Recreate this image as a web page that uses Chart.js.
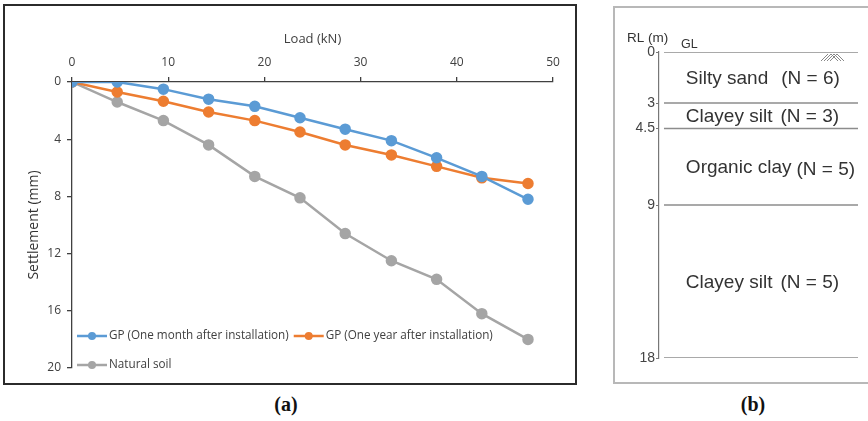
<!DOCTYPE html>
<html>
<head>
<meta charset="utf-8">
<script src="https://cdn.jsdelivr.net/npm/chart.js@4.4.1/dist/chart.umd.min.js"></script>
<style>
  body { margin: 0; background: #fff; width: 868px; height: 421px; overflow: hidden; position: relative; }
  .frame { position: absolute; box-sizing: border-box; }
  #frameA { left: 3px; top: 4px; width: 574px; height: 381px; border: 2px solid #2b2b2b; }
  #frameB { left: 613px; top: 6px; width: 262px; height: 378px; border: 2px solid #b8b8b8; }
  #wrapA { position: absolute; left: 5px; top: 8px; width: 570px; height: 374px; }
  #wrapB { position: absolute; left: 614px; top: 8px; width: 254px; height: 374px; }
  .cap { position: absolute; font: bold 20px "Liberation Serif", "Times New Roman", serif; color: #111; transform: translate(-50%, -50%); }
</style>
</head>
<body>
<div class="frame" id="frameA"></div>
<div class="frame" id="frameB"></div>
<div id="wrapA"><canvas id="settle-chart"></canvas></div>
<div id="wrapB"><canvas id="soil-chart"></canvas></div>
<div class="cap" style="left:286px; top:404px;">(a)</div>
<div class="cap" style="left:753px; top:404px;">(b)</div>
<script>
// (a) load - settlement
const loads = [0, 4.7, 9.5, 14.2, 19.0, 23.7, 28.4, 33.2, 37.9, 42.6, 47.4];
const oneMonth = [0, 0, 0.5, 1.2, 1.7, 2.5, 3.3, 4.1, 5.3, 6.6, 8.2];
const oneYear = [0, 0.7, 1.35, 2.1, 2.7, 3.5, 4.4, 5.1, 5.9, 6.7, 7.1];
const naturalSoil = [0, 1.4, 2.7, 4.4, 6.6, 8.1, 10.6, 12.5, 13.8, 16.2, 18.0];
const seriesNames = ['GP (One month after installation)', 'GP (One year after installation)', 'Natural soil'];

// (b) soil profile
const depthTicks = [0, 3, 4.5, 9, 18];
const layerNames = ['Silty sand', 'Clayey silt', 'Organic clay', 'Clayey silt'];
const layerN = [6, 3, 5, 5];

const txt = '#404040';
const pts = (ys) => loads.map((x, i) => ({ x: x, y: ys[i] }));

function mkSeries(label, ys, color) {
    return {
        label: label,
        data: pts(ys),
        borderColor: color,
        backgroundColor: color,
        borderWidth: 2.5,
        pointRadius: 4.5,
        pointHoverRadius: 4.5,
        tension: 0
    };
}

// legend drawn inside the plot, bottom left
const insideLegend = {
    id: 'insideLegend',
    afterDraw(chart) {
        const ctx = chart.ctx;
        const area = chart.chartArea;
        const x0 = area.left + 5;
        const row2 = area.bottom - 3;
        const row1 = row2 - 29;
        const spots = [[x0, row1], [null, row1], [x0, row2]];
        ctx.save();
        ctx.font = '11.7px "Open Sans", sans-serif';
        ctx.textBaseline = 'middle';
        let nextX = x0;
        chart.data.datasets.forEach((ds, i) => {
            const x = spots[i][0] === null ? nextX : spots[i][0];
            const y = spots[i][1];
            ctx.strokeStyle = ds.borderColor;
            ctx.lineWidth = 2.5;
            ctx.beginPath();
            ctx.moveTo(x, y);
            ctx.lineTo(x + 30, y);
            ctx.stroke();
            ctx.fillStyle = ds.borderColor;
            ctx.beginPath();
            ctx.arc(x + 15, y, 4, 0, Math.PI * 2);
            ctx.fill();
            ctx.fillStyle = txt;
            ctx.textAlign = 'left';
            ctx.fillText(ds.label, x + 32, y);
            nextX = x + 32 + ctx.measureText(ds.label).width + 5;
        });
        ctx.restore();
    }
};

new Chart(document.getElementById('settle-chart').getContext('2d'), {
    type: 'line',
    data: {
        datasets: [
            mkSeries(seriesNames[0], oneMonth, '#5b9bd5'),
            mkSeries(seriesNames[1], oneYear, '#ed7d31'),
            mkSeries(seriesNames[2], naturalSoil, '#a5a5a5')
        ]
    },
    options: {
        responsive: true,
        maintainAspectRatio: false,
        animation: false,
        layout: { padding: { top: 0, right: 22, bottom: 14, left: 0 } },
        plugins: { legend: { display: false }, tooltip: { enabled: false } },
        scales: {
            x: {
                type: 'linear',
                position: 'top',
                min: 0,
                max: 50,
                ticks: { stepSize: 10, color: txt, padding: 7, font: { family: 'Open Sans', size: 12 } },
                grid: { drawOnChartArea: false, color: '#404040', tickLength: 5, lineWidth: 1.3 },
                border: { display: true, color: '#404040', width: 1.3 },
                title: { display: true, text: 'Load (kN)', color: txt, padding: { top: 23 }, font: { family: 'Open Sans', size: 13 } },
                afterFit(s) { s.height = 74; }
            },
            y: {
                type: 'linear',
                reverse: true,
                min: 0,
                max: 20,
                ticks: { stepSize: 4, color: txt, padding: 6, font: { family: 'Open Sans', size: 12 } },
                grid: { drawOnChartArea: false, color: '#404040', tickLength: 5, lineWidth: 1.3 },
                border: { display: true, color: '#404040', width: 1.3 },
                title: { display: true, text: 'Settlement (mm)', color: '#333', padding: { top: 21 }, font: { family: 'Open Sans', size: 14 } },
                afterFit(s) { s.width = 67; }
            }
        }
    },
    plugins: [insideLegend]
});

// soil profile labels, RL caption, GL mark
const layerGaps = [13, 8, 5, 8];
const soilText = {
    id: 'soilText',
    afterDraw(chart) {
        const ctx = chart.ctx;
        const xs = chart.scales.x;
        const ys = chart.scales.y;
        const area = chart.chartArea;
        ctx.save();
        ctx.fillStyle = '#333';
        ctx.textBaseline = 'middle';
        ctx.font = '19px "Liberation Sans", Arial, sans-serif';
        ctx.textAlign = 'left';
        const lx = xs.getPixelForValue(0.135);
        for (let i = 0; i < layerNames.length; i++) {
            const y = ys.getPixelForValue((depthTicks[i] + depthTicks[i + 1]) / 2) + 1;
            ctx.fillText(layerNames[i], lx, y);
            const nx = lx + ctx.measureText(layerNames[i]).width + layerGaps[i];
            ctx.fillText('(N = ' + layerN[i] + ')', nx, layerNames[i] === 'Organic clay' ? y + 2 : y);
        }
        ctx.font = '13.5px "Liberation Sans", Arial, sans-serif';
        ctx.fillText('RL (m)', area.left - 32, area.top - 14);
        ctx.font = '12.5px "Liberation Sans", Arial, sans-serif';
        ctx.fillText('GL', area.left + 22, area.top - 7);
        // ground hatch
        const hx = area.right - 37;
        const hy = ys.getPixelForValue(0) + 2;
        ctx.strokeStyle = '#888';
        ctx.lineWidth = 1;
        for (let k = 0; k < 4; k++) {
            ctx.beginPath();
            ctx.moveTo(hx + k * 3, hy + 7);
            ctx.lineTo(hx + k * 3 + 7, hy);
            ctx.stroke();
        }
        for (let k = 0; k < 3; k++) {
            ctx.beginPath();
            ctx.moveTo(hx + 10 + k * 3, hy);
            ctx.lineTo(hx + 17 + k * 3, hy + 7);
            ctx.stroke();
        }
        ctx.restore();
    }
};

new Chart(document.getElementById('soil-chart').getContext('2d'), {
    type: 'line',
    data: {
        datasets: depthTicks.map(d => ({
            data: [{ x: 0.025, y: d }, { x: 1, y: d }],
            borderColor: '#8c8c8c',
            borderWidth: 1.5,
            pointRadius: 0
        }))
    },
    options: {
        responsive: true,
        maintainAspectRatio: false,
        animation: false,
        layout: { padding: { top: 44, right: 10, bottom: 24, left: 0 } },
        plugins: { legend: { display: false }, tooltip: { enabled: false } },
        scales: {
            x: { type: 'linear', min: 0, max: 1, display: false },
            y: {
                type: 'linear',
                reverse: true,
                min: 0,
                max: 18,
                afterBuildTicks(s) { s.ticks = depthTicks.map(v => ({ value: v })); },
                ticks: { color: '#444', padding: 1, font: { family: 'Liberation Sans', size: 14 } },
                grid: { drawOnChartArea: false, color: '#777', tickLength: 3 },
                border: { display: true, color: '#777', width: 1.2 },
                afterFit(s) { s.width = 45; }
            }
        }
    },
    plugins: [soilText]
});
</script>
</body>
</html>
